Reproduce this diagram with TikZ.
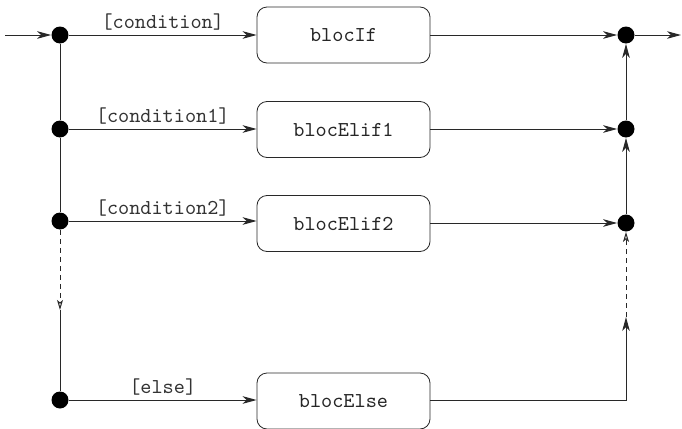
\documentclass[tikz,border=0pt]{standalone}
\usepackage{fontspec}
\usetikzlibrary{arrows.meta,positioning}
\definecolor{wire}{RGB}{40,40,40}

\tikzset{
  blocbox/.style={draw,wire,rounded corners=5pt,minimum width=86.5pt,minimum height=28pt,
    font=\ttfamily\fontsize{10.6}{12}\selectfont,text=black!85},
  junction/.style={circle,fill=black,inner sep=0pt,minimum size=8.5pt},
  guard/.style={font=\ttfamily\fontsize{10.6}{12}\selectfont,text=black!80,inner sep=1pt},
  flow/.style={wire,line width=0.5pt,-{Stealth[length=7pt,width=3.8pt,inset=2pt]}},
  plain/.style={wire,line width=0.5pt},
  hint/.style={wire,line width=0.5pt,dash pattern=on 2.5pt off 2pt,-{Stealth[open,length=5pt,width=3pt,inset=1.2pt]}}
}

\begin{document}
\begin{tikzpicture}[x=0.5pt,y=-0.5pt]
\useasboundingbox (0,0) rectangle (682,429);
% decision junctions on the left
\node[junction] (jIf) at (60,35) {};
\node[junction] (jElif1) at (60,129) {};
\node[junction] (jElif2) at (60,221) {};
\node[junction] (jElse) at (60,400) {};
% merge junctions on the right
\node[junction] (mIf) at (626,35) {};
\node[junction] (mElif1) at (626,129) {};
\node[junction] (mElif2) at (626,223) {};
% blocks
\node[blocbox] (bIf) at (343.5,35) {blocIf};
\node[blocbox] (bElif1) at (343.5,129.5) {blocElif1};
\node[blocbox] (bElif2) at (343.5,223.5) {blocElif2};
\node[blocbox] (bElse) at (343.5,401) {blocElse};
% free ends
\coordinate (start) at (5,35);
\coordinate (finish) at (681,35);
\coordinate (lBreak) at (60,310);
\coordinate (rBreak) at (626,317);
\coordinate (rCorner) at (626,400);
% entry and exit
\draw[flow] (start) -- (jIf);
\draw[flow] (mIf) -- (finish);
% guarded branches
\draw[flow] (jIf) -- node[guard,above=1pt] {[condition]} (jIf -| bIf.west);
\draw[flow] (jElif1) -- node[guard,above=1pt] {[condition1]} (jElif1 -| bElif1.west);
\draw[flow] (jElif2) -- node[guard,above=1pt] {[condition2]} (jElif2 -| bElif2.west);
\draw[flow] (jElse) -- node[guard,above=1pt] {[else]} (jElse -| bElse.west);
% left spine
\draw[plain] (jIf) -- (jElif1);
\draw[plain] (jElif1) -- (jElif2);
\draw[hint] (jElif2) -- (lBreak);
\draw[plain] (lBreak) -- (jElse);
% block outputs
\draw[flow] (bIf.east) -- (mIf);
\draw[flow] (bElif1.east |- mElif1) -- (mElif1);
\draw[flow] (bElif2.east |- mElif2) -- (mElif2);
\draw[flow] (bElse.east |- rCorner) -- (rCorner) -- (rBreak);
% right spine
\draw[hint] (rBreak) -- (mElif2);
\draw[flow] (mElif2) -- (mElif1);
\draw[flow] (mElif1) -- (mIf);
\end{tikzpicture}
\end{document}
